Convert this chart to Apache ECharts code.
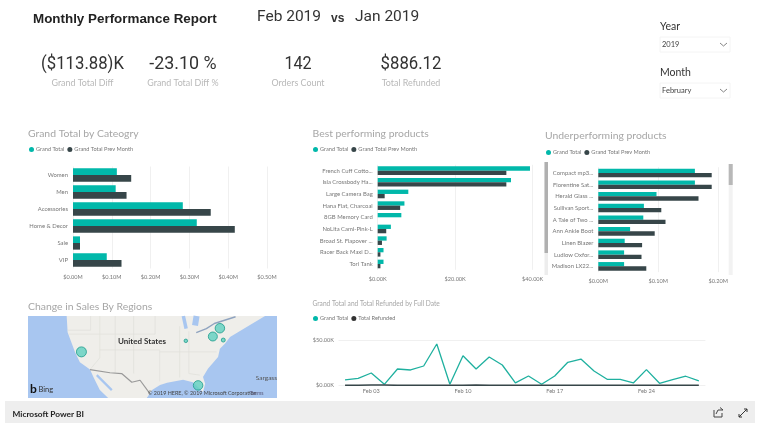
<!DOCTYPE html>
<html>
<head>
<meta charset="utf-8">
<title>Monthly Performance Report</title>
<script src="https://cdn.jsdelivr.net/npm/echarts@6/dist/echarts.min.js"></script>
<style>
html, body { margin: 0; padding: 0; background: #fff; }
#main { width: 758px; height: 429px; filter: blur(0.3px); }
</style>
</head>
<body>
<div id="main"></div>
<script>
// data
var categories = ['Women', 'Men', 'Accessories', 'Home & Decor', 'Sale', 'VIP'];
var categoryGrand = [0.113, 0.11, 0.283, 0.319, 0.018, 0.087];
var categoryPrev = [0.15, 0.138, 0.355, 0.417, 0.018, 0.125];

var bestNames = ['French Cuff Cotto...', 'Isla Crossbody Ha...', 'Large Camera Bag', 'Hana Flat, Charcoal', '8GB Memory Card', 'NoLita Cami-Pink-L', 'Broad St. Flapover ...', 'Racer Back Maxi D...', 'Tori Tank'];
var bestGrand = [39.3, 34.4, 7.9, 6.9, 6.1, 3.4, 2.3, 1.5, 1.5];
var bestPrev = [33.2, 33.2, 1.8, 5.8, 0, 2.2, 1.1, 0.7, 0.7];

var underNames = ['Compact mp3...', 'Florentine Sat...', 'Herald Glass ...', 'Sullivan Sport...', 'A Tale of Two ...', 'Ann Ankle Boot', 'Linen Blazer', 'Ludlow Oxfor...', 'Madison LX22...'];
var underGrand = [0.161, 0.161, 0.097, 0.076, 0.075, 0.053, 0.044, 0.043, 0.043];
var underPrev = [0.189, 0.189, 0.167, 0.105, 0.112, 0.094, 0.073, 0.072, 0.08];

var days = ['Feb 01', 'Feb 02', 'Feb 03', 'Feb 04', 'Feb 05', 'Feb 06', 'Feb 07', 'Feb 08', 'Feb 09', 'Feb 10', 'Feb 11', 'Feb 12', 'Feb 13', 'Feb 14', 'Feb 15', 'Feb 16', 'Feb 17', 'Feb 18', 'Feb 19', 'Feb 20', 'Feb 21', 'Feb 22', 'Feb 23', 'Feb 24', 'Feb 25', 'Feb 26', 'Feb 27', 'Feb 28'];
var dayGrand = [5.9, 7.7, 13.6, 1.1, 18, 16.9, 21.3, 45.6, 1.1, 32.7, 18, 31.2, 22.4, 2.6, 10.3, 1.1, 10.3, 25.4, 29, 15.8, 6.6, 6.6, 2.6, 17.3, 2.2, 6.2, 10, 4.8];
var dayRefund = [0.1, 0.1, 0.4, 0.2, 0, 0, 0.1, 0.1, 0, 0.1, 0.3, 0.1, 0, 0.1, 0.1, 0, 0.1, 0, 0.1, 0, 0, 0.1, 0, 0.1, 0, 0, 0.1, 0];

// regions: [lon, lat, size]
var regions = [[-120, 36.5, 10], [-74.9, 42.5, 9.5], [-77.2, 40.4, 9], [-73.8, 39.5, 4], [-86, 39.3, 3.5], [-82, 28, 9.5]];
var landShape = [[-124.8, 45.6], [-124.5, 41.5], [-122.1, 36.5], [-120.5, 33.9], [-117.2, 32], [-116.1, 30.1], [-114, 26.8], [-111.3, 24.8], [-98.7, 24.8], [-97, 26.8], [-94.4, 28.1], [-92.1, 28.7], [-86.9, 29.4], [-83.7, 28.8], [-81.4, 27.1], [-80.4, 26.3], [-79.7, 28.4], [-80.4, 30.1], [-78.8, 32.2], [-75.5, 35.2], [-74.9, 37.3], [-73.2, 38.6], [-71.6, 40.3], [-65.1, 43.3], [-60.2, 45.6]];
var mexicoBorder = [[-117.2, 32], [-110.7, 31.2], [-106.9, 31], [-103.6, 28.8], [-100.9, 29.3], [-97.7, 25.9]];
var lakeMichigan = [[-86.8, 45.6], [-85.9, 42.4]];
var lakeHuron = [[-82.5, 45.6], [-83, 43.2]];
var lakeErie = [[-82.6, 41.4], [-79.3, 42.4], [-76.7, 43.7], [-69.8, 45.4]];
var gulfCalifornia = [[-115, 30.6], [-110.1, 26.8]];
var stateA = [[-117, 45.6], [-117, 42], [-124.4, 42]];
var stateB = [[-114, 45.6], [-114, 35], [-117.2, 32]];
var stateC = [[-109, 45.6], [-109, 31.2]];
var stateD = [[-124, 41], [-96, 41], [-96, 45.6]];
var stateE = [[-103, 45.6], [-103, 31]];
var stateF = [[-114, 37], [-94.5, 37], [-94.5, 29]];
var stateG = [[-94.5, 36.5], [-76, 36.5]];
var stateH = [[-88, 43], [-88, 30]];
var stateI = [[-85, 41.7], [-85, 31], [-81.4, 30.6]];

var TEAL = '#01b8aa';
var DARK = '#374649';
var LABEL = '#777777';
var TITLE = '#a6a6a6';
var GRID = '#f0f0f0';
var WATER = '#a8c6f0';
var STATE = '#e0dfda';
var FONT = 'Lato, sans-serif';

var myChart = echarts.init(document.getElementById('main'));

function barAxisY(index, names) {
  return {
    type: 'category', gridIndex: index, data: names, inverse: true,
    axisLine: { show: false }, axisTick: { show: false }, splitLine: { show: false },
    axisLabel: { color: LABEL, fontSize: 5.9, fontFamily: FONT, margin: 5 }
  };
}

function barAxisX(index, max, interval, fmt) {
  return {
    type: 'value', gridIndex: index, min: 0, max: max, interval: interval,
    axisLine: { show: false }, axisTick: { show: false },
    splitLine: { lineStyle: { color: GRID, width: 1 } },
    axisLabel: { color: LABEL, fontSize: 5.6, fontFamily: FONT, margin: 6, formatter: fmt }
  };
}

function barSeries(name, index, values, color, gap) {
  return {
    name: name, type: 'bar', xAxisIndex: index, yAxisIndex: index, data: values,
    barGap: 0, barCategoryGap: gap, itemStyle: { color: color }, silent: true
  };
}

function legendAt(left, top, names) {
  return {
    left: left, top: top, data: names, icon: 'circle', itemWidth: 5, itemHeight: 5, itemGap: 3,
    padding: 0, selectedMode: false,
    textStyle: { color: '#777', fontSize: 5.6, fontFamily: FONT, padding: [0, 0, 0, -3] }
  };
}

function mapLine(values, color, width) {
  return {
    type: 'line', xAxisIndex: 4, yAxisIndex: 4, data: values, symbol: 'none', silent: true, z: 3,
    lineStyle: { color: color, width: width }
  };
}

function txt(x, y, text, size, color, align, weight, family, scaleX) {
  return {
    type: 'text', x: x, y: y, silent: true, z: 20, scaleX: scaleX || 1,
    style: {
      text: text, fontSize: size, fill: color, align: align || 'left', verticalAlign: 'middle',
      fontWeight: weight || 'normal', fontFamily: family || FONT
    }
  };
}

function slicer(top, title, value) {
  return [
    txt(660, top - 10, title, 10.5, '#333'),
    { type: 'rect', shape: { x: 660, y: top, width: 70, height: 15 }, silent: true, style: { fill: '#fff', stroke: '#f4f4f4' } },
    txt(662, top + 8, value, 7.5, '#444'),
    { type: 'polyline', shape: { points: [[720, top + 6], [723.5, top + 9], [727, top + 6]] }, silent: true, style: { fill: 'none', stroke: '#666', lineWidth: 0.8 } }
  ];
}

var kpiFont = 'Roboto, sans-serif';
var ARIAL = '"Liberation Sans", sans-serif';
var graphics = [
  txt(33, 19, 'Monthly Performance Report', 13.4, '#222', 'left', 'bold', ARIAL),
  txt(257, 17, 'Feb 2019', 15.5, '#333', 'left', 'normal', kpiFont),
  txt(331, 19, 'vs', 12, '#333', 'left', 'bold', ARIAL),
  txt(355, 17, 'Jan 2019', 15.5, '#333', 'left', 'normal', kpiFont),
  txt(82.5, 64, '($113.88)K', 19, '#333', 'center', 'normal', kpiFont, 0.88),
  txt(183, 64, '-23.10 %', 19, '#333', 'center', 'normal', kpiFont, 0.94),
  txt(298, 64, '142', 19, '#333', 'center', 'normal', kpiFont, 0.85),
  txt(411, 64, '$886.12', 19, '#333', 'center', 'normal', kpiFont, 0.88),
  txt(82.5, 83.5, 'Grand Total Diff', 8.9, '#b8b8b8', 'center'),
  txt(183, 83.5, 'Grand Total Diff %', 8.9, '#b8b8b8', 'center'),
  txt(298, 83.5, 'Orders Count', 8.9, '#b8b8b8', 'center'),
  txt(411, 83.5, 'Total Refunded', 8.9, '#b8b8b8', 'center'),
  txt(28, 133.5, 'Grand Total by Cateogry', 10.4, TITLE),
  txt(312.5, 133.5, 'Best performing products', 10.4, TITLE),
  txt(545, 135.5, 'Underperforming products', 10.4, TITLE),
  txt(28, 307, 'Change in Sales By Regions', 10.4, TITLE),
  txt(312.5, 304, 'Grand Total and Total Refunded by Full Date', 6.6, TITLE),
  // scrollbars of the underperforming visual
  { type: 'rect', shape: { x: 544.5, y: 162, width: 3.5, height: 113 }, silent: true, style: { fill: '#ededed' } },
  { type: 'rect', shape: { x: 544.5, y: 162, width: 3.5, height: 91 }, silent: true, style: { fill: '#b0b0b0' } },
  { type: 'rect', shape: { x: 728.7, y: 164, width: 4, height: 111 }, silent: true, style: { fill: '#f2f2f2' } },
  { type: 'rect', shape: { x: 728.7, y: 164, width: 4, height: 21 }, silent: true, style: { fill: '#b8b8b8' } },
  // map captions
  txt(142, 341.5, 'United States', 8, '#333', 'center', 'bold'),
  txt(277, 378, 'Sargass', 6.5, '#555', 'right'),
  txt(38.5, 389.5, 'Bing', 7.5, '#333'),
  txt(33.5, 389.5, 'b', 12, '#111', 'center', 'bold'),
  txt(148, 393, '© 2019 HERE, © 2019 Microsoft Corporation', 5.4, '#444'),
  txt(250, 393, 'Terms', 5.2, '#557'),
  // footer
  { type: 'rect', shape: { x: 5, y: 401, width: 750, height: 22 }, silent: true, style: { fill: '#eeeeee' } },
  txt(12.5, 414, 'Microsoft Power BI', 8.3, '#222', 'left', 'bold'),
  { type: 'polyline', shape: { points: [[714, 410], [714, 417], [722, 417], [722, 413]] }, silent: true, z: 20, style: { fill: 'none', stroke: '#444', lineWidth: 1 } },
  { type: 'polyline', shape: { points: [[716, 414], [718, 410], [723, 410], [720, 407.5]] }, silent: true, z: 20, style: { fill: 'none', stroke: '#444', lineWidth: 1 } },
  { type: 'line', shape: { x1: 739, y1: 417, x2: 747, y2: 409 }, silent: true, z: 20, style: { stroke: '#333', lineWidth: 1 } },
  { type: 'polyline', shape: { points: [[744, 409], [747, 409], [747, 412]] }, silent: true, z: 20, style: { fill: 'none', stroke: '#333', lineWidth: 1 } },
  { type: 'polyline', shape: { points: [[739, 414], [739, 417], [742, 417]] }, silent: true, z: 20, style: { fill: 'none', stroke: '#333', lineWidth: 1 } }
].concat(slicer(37, 'Year', '2019'), slicer(83, 'Month', 'February'));

var option = {
  animation: false,
  backgroundColor: '#fff',
  textStyle: { fontFamily: FONT },
  legend: [
    legendAt(29, 146.5, ['Grand Total', 'Grand Total Prev Month']),
    legendAt(313, 146.5, ['Grand Total', 'Grand Total Prev Month']),
    legendAt(546, 149.5, ['Grand Total', 'Grand Total Prev Month']),
    legendAt(313, 315.5, ['Grand Total', 'Total Refunded'])
  ],
  grid: [
    { left: 73, top: 166.5, width: 194, height: 102 },
    { left: 377.7, top: 164.8, width: 155, height: 105 },
    { left: 598.3, top: 167.2, width: 120, height: 105 },
    { left: 338.5, top: 340, width: 366.9, height: 45.3 },
    { left: 28, top: 316, width: 249, height: 82 }
  ],
  xAxis: [
    barAxisX(0, 0.5, 0.1, function (v) { return '$' + v.toFixed(2) + 'M'; }),
    barAxisX(1, 40, 20, function (v) { return '$' + v.toFixed(2) + 'K'; }),
    barAxisX(2, 0.2, 0.1, function (v) { return '$' + v.toFixed(2) + 'M'; }),
    {
      type: 'category', gridIndex: 3, data: days,
      axisLine: { show: false }, axisTick: { show: false },
      axisLabel: {
        color: LABEL, fontSize: 5.6, fontFamily: FONT, margin: 3,
        interval: function (i) { return i % 7 === 2; }
      }
    },
    { type: 'value', gridIndex: 4, min: -137.4, max: -56.3, show: false }
  ],
  yAxis: [
    barAxisY(0, categories),
    barAxisY(1, bestNames),
    barAxisY(2, underNames),
    {
      type: 'value', gridIndex: 3, min: 0, max: 50, interval: 50,
      axisLine: { show: false }, axisTick: { show: false },
      splitLine: { lineStyle: { color: GRID } },
      axisLabel: {
        color: LABEL, fontSize: 5.6, fontFamily: FONT, margin: 4.5,
        formatter: function (v) { return '$' + v.toFixed(2) + 'K'; }
      }
    },
    { type: 'value', gridIndex: 4, min: 24.8, max: 45.6, show: false }
  ],
  series: [
    barSeries('Grand Total', 0, categoryGrand, TEAL, '22%'),
    barSeries('Grand Total Prev Month', 0, categoryPrev, DARK, '22%'),
    barSeries('Grand Total', 1, bestGrand, TEAL, '26%'),
    barSeries('Grand Total Prev Month', 1, bestPrev, DARK, '26%'),
    barSeries('Grand Total', 2, underGrand, TEAL, '26%'),
    barSeries('Grand Total Prev Month', 2, underPrev, DARK, '26%'),
    {
      name: 'Grand Total', type: 'line', xAxisIndex: 3, yAxisIndex: 3, data: dayGrand,
      symbol: 'none', silent: true, z: 3, lineStyle: { color: '#1fb09f', width: 1.3 }, itemStyle: { color: TEAL }
    },
    {
      name: 'Total Refunded', type: 'line', xAxisIndex: 3, yAxisIndex: 3, data: dayRefund,
      symbol: 'none', silent: true, z: 4, lineStyle: { color: DARK, width: 1.5 }, itemStyle: { color: '#333' }
    },
    // map: water rect and land polygon in lon/lat
    {
      type: 'custom', xAxisIndex: 4, yAxisIndex: 4, data: [0], silent: true, z: 1, clip: true,
      renderItem: function (params, api) {
        var start = api.coord([-137.4, 45.6]);
        var end = api.coord([-56.3, 24.8]);
        return {
          type: 'group',
          children: [
            { type: 'rect', shape: { x: start[0], y: start[1], width: end[0] - start[0], height: end[1] - start[1] }, style: { fill: WATER } },
            { type: 'polygon', shape: { points: landShape.map(function (p) { return api.coord(p); }) }, style: { fill: '#efeeea' } }
          ]
        };
      }
    },
    mapLine(stateA, STATE, 0.7), mapLine(stateB, STATE, 0.7), mapLine(stateC, STATE, 0.7),
    mapLine(stateD, STATE, 0.7), mapLine(stateE, STATE, 0.7), mapLine(stateF, STATE, 0.7),
    mapLine(stateG, STATE, 0.7), mapLine(stateH, STATE, 0.7), mapLine(stateI, STATE, 0.7),
    mapLine(mexicoBorder, '#9a9a9a', 1.2),
    mapLine(gulfCalifornia, WATER, 2.2),
    mapLine(lakeMichigan, WATER, 3.5),
    mapLine(lakeHuron, WATER, 6),
    mapLine(lakeErie, '#8fa3bf', 1.4),
    {
      type: 'scatter', xAxisIndex: 4, yAxisIndex: 4, data: regions, silent: true, z: 5,
      symbolSize: function (d) { return d[2]; },
      itemStyle: { color: '#5fd0bf', borderColor: '#1f9c8c', borderWidth: 1 }
    }
  ],
  graphic: graphics
};

myChart.setOption(option);
</script>
</body>
</html>
